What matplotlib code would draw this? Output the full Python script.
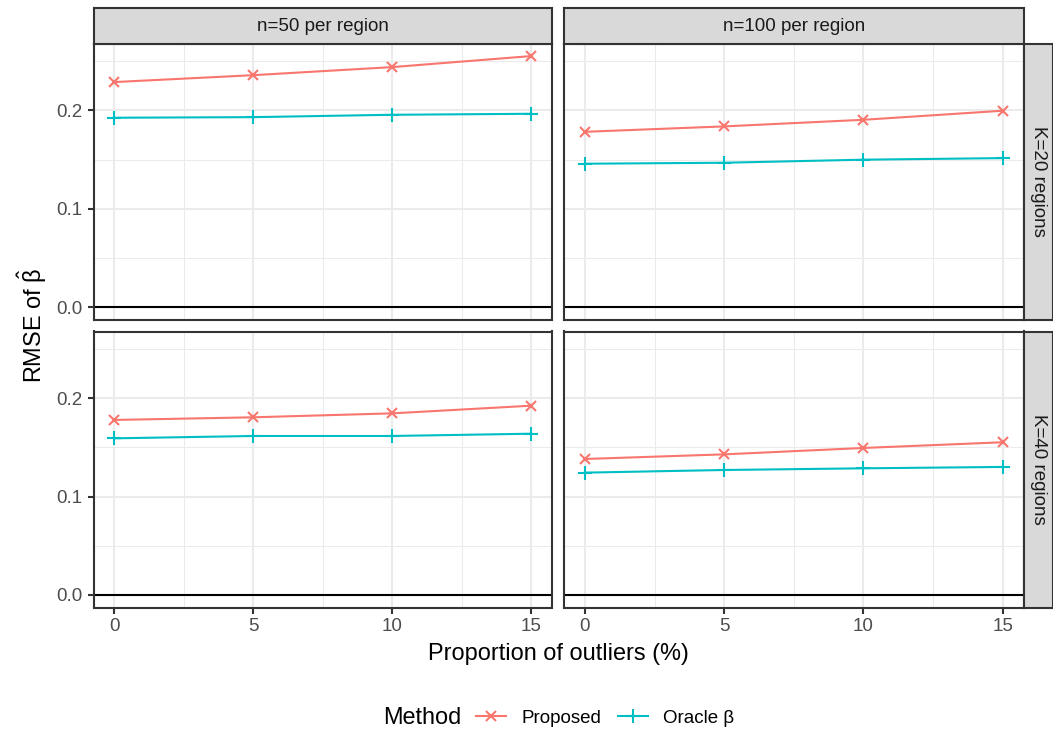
import matplotlib
matplotlib.use("Agg")
import matplotlib.pyplot as plt
from matplotlib.lines import Line2D
from matplotlib.ticker import MultipleLocator

plt.rcParams['font.family'] = ['Liberation Sans', 'DejaVu Sans']
plt.rcParams['mathtext.fontset'] = 'custom'
plt.rcParams['mathtext.rm'] = 'Liberation Sans'
plt.rcParams['mathtext.it'] = 'Liberation Sans:italic'

# ---- data ----
outlier_pct = [0, 5, 10, 15]
col_labels = ["n=50 per region", "n=100 per region"]
row_labels = ["K=20 regions", "K=40 regions"]
methods = ["Proposed", "Oracle β"]

proposed_k20_n50 = [0.2288, 0.2358, 0.2440, 0.2552]
oracle_k20_n50 = [0.1926, 0.1932, 0.1956, 0.1966]
proposed_k20_n100 = [0.1783, 0.1838, 0.1905, 0.1997]
oracle_k20_n100 = [0.1459, 0.1469, 0.1500, 0.1516]
proposed_k40_n50 = [0.1780, 0.1807, 0.1847, 0.1925]
oracle_k40_n50 = [0.1593, 0.1617, 0.1617, 0.1640]
proposed_k40_n100 = [0.1383, 0.1430, 0.1495, 0.1553]
oracle_k40_n100 = [0.1244, 0.1271, 0.1288, 0.1302]

panels = {
    (0, 0): (proposed_k20_n50, oracle_k20_n50),
    (0, 1): (proposed_k20_n100, oracle_k20_n100),
    (1, 0): (proposed_k40_n50, oracle_k40_n50),
    (1, 1): (proposed_k40_n100, oracle_k40_n100),
}

colors = ["#F8766D", "#00BFC4"]
markers = ["x", "+"]
msizes = [5.0, 6.5]

W, H = 1053, 738
DPI = 150
fig = plt.figure(figsize=(W / DPI, H / DPI), dpi=DPI)

FS_SMALL = 9.0
FS_BIG = 11.3

def fx(px):
    return px / W

def fy(py):
    return 1 - py / H

col_x = [(93.5, 552.0), (564.0, 1023.5)]
row_y = [(43.5, 320.0), (331.5, 607.5)]

ymax_data = max(max(v) for pair in panels.values() for v in pair)
ylo = 0 - 0.05 * ymax_data
yhi = ymax_data + 0.05 * ymax_data
xlo, xhi = -0.75, 15.75

border = "#333333"
grid_c = "#EBEBEB"
lw_line = 1.0

for (r, c), (prop, orac) in panels.items():
    x0, x1 = col_x[c]
    y0, y1 = row_y[r]
    ax = fig.add_axes([fx(x0), fy(y1), fx(x1) - fx(x0), fy(y0) - fy(y1)])
    ax.set_xlim(xlo, xhi)
    ax.set_ylim(ylo, yhi)
    ax.xaxis.set_major_locator(MultipleLocator(5))
    ax.xaxis.set_minor_locator(MultipleLocator(2.5))
    ax.yaxis.set_major_locator(MultipleLocator(0.1))
    ax.yaxis.set_minor_locator(MultipleLocator(0.05))
    ax.grid(True, which='major', color=grid_c, lw=1.0, zorder=0)
    ax.grid(True, which='minor', color=grid_c, lw=0.5, zorder=0)
    ax.set_axisbelow(True)
    for s in ax.spines.values():
        s.set_color(border)
        s.set_linewidth(1.0)
        s.set_zorder(5)
    ax.axhline(0, color='black', lw=lw_line, zorder=2)
    for vals, col, mk, ms in zip((prop, orac), colors, markers, msizes):
        ax.plot(outlier_pct, vals, color=col, lw=lw_line, marker=mk,
                markersize=ms, markeredgewidth=1.0, zorder=3)
    ax.tick_params(which='major', length=2.75, width=1.0, color=border,
                   pad=2.4, labelsize=FS_SMALL, labelcolor='#4D4D4D')
    ax.tick_params(which='minor', length=0)
    if c == 0:
        ax.set_yticks([0.0, 0.1, 0.2])
        ax.set_yticklabels(["0.0", "0.1", "0.2"])
    else:
        ax.tick_params(axis='y', which='both', left=False, labelleft=False)
    if r == 1:
        ax.set_xticks(outlier_pct)
        ax.set_xticklabels([str(v) for v in outlier_pct])
    else:
        ax.tick_params(axis='x', which='both', bottom=False, labelbottom=False)

# top strips
for c, lab in enumerate(col_labels):
    x0, x1 = col_x[c]
    sax = fig.add_axes([fx(x0), fy(43.5), fx(x1) - fx(x0), fy(8) - fy(43.5)])
    sax.set_facecolor("#D9D9D9")
    sax.set_xticks([]); sax.set_yticks([])
    for s in sax.spines.values():
        s.set_color(border); s.set_linewidth(1.0)
    sax.text(0.5, 0.47, lab, ha='center', va='center', fontsize=FS_SMALL,
             color='#1A1A1A', transform=sax.transAxes)

# right strips
for r, lab in enumerate(row_labels):
    y0, y1 = row_y[r]
    sax = fig.add_axes([fx(1023.5), fy(y1), fx(1053) - fx(1023.5), fy(y0) - fy(y1)])
    sax.set_facecolor("#D9D9D9")
    sax.set_xticks([]); sax.set_yticks([])
    for s in sax.spines.values():
        s.set_color(border); s.set_linewidth(1.0)
    sax.text(0.5, 0.5, lab, ha='center', va='center', fontsize=FS_SMALL,
             color='#1A1A1A', rotation=-90, transform=sax.transAxes)

# axis titles
fig.text(fx(558.5), fy(654), "Proportion of outliers (%)", ha='center',
         va='center', fontsize=FS_BIG, color='black')
fig.text(fx(32), fy(325.5), r"RMSE of $\hat{\mathrm{\beta}}$", ha='center',
         va='center', rotation=90, fontsize=FS_BIG, color='black')

# legend
handles = [Line2D([0], [0], color=col, lw=lw_line, marker=mk, markersize=ms,
                  markeredgewidth=1.0)
           for col, mk, ms in zip(colors, markers, msizes)]
fig.text(fx(383), fy(718), "Method", ha='left', va='center', fontsize=FS_BIG)
fig.legend(handles, methods, loc='center', bbox_to_anchor=(fx(605), fy(718)),
           ncol=2, frameon=False, fontsize=FS_SMALL, handlelength=1.6,
           handletextpad=0.8, columnspacing=0.9, borderpad=0,
           borderaxespad=0)

fig.savefig("out.png", dpi=DPI)
